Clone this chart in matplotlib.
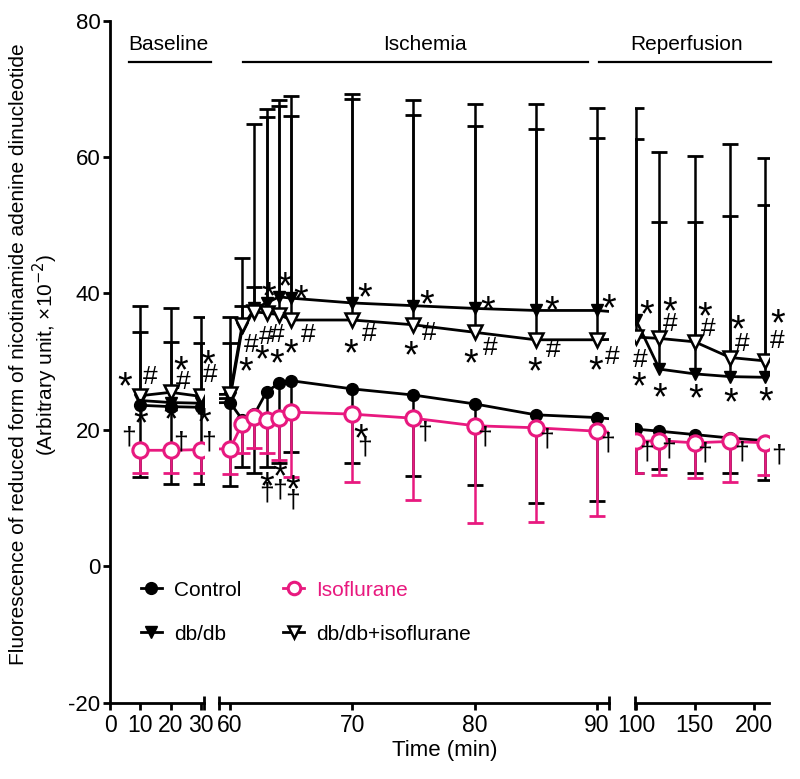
import numpy as np
import matplotlib
matplotlib.use('Agg')
import matplotlib.pyplot as plt
from matplotlib.lines import Line2D
from matplotlib.transforms import offset_copy

plt.rcParams['font.family'] = ['Liberation Sans', 'DejaVu Sans']
plt.rcParams['axes.unicode_minus'] = False

PINK = '#E8197F'

# time points (min)
time = [10, 20, 30, 60, 61, 62, 63, 64, 65, 70, 75, 80, 85, 90, 100, 120, 150, 180, 210]

ctrl_mean = [23.6, 23.4, 23.3, 24.0, 21.5, 22.3, 25.6, 26.8, 27.2, 26.0, 25.1, 23.8, 22.2, 21.8,
             20.1, 19.8, 19.3, 18.8, 18.4]
ctrl_low = [13.1, 12.1, 12.1, 11.8, 14.6, 13.6, 14.5, 15.2, 16.8, 15.2, 13.2, 11.9, 9.3, 9.5,
            13.7, 14.3, 13.6, 13.6, 12.6]

iso_mean = [17.0, 17.0, 17.1, 17.2, 20.9, 21.9, 21.4, 21.7, 22.6, 22.3, 21.7, 20.6, 20.3, 19.8,
            18.3, 18.4, 18.1, 18.3, 18.1]
iso_low = [13.7, 13.7, 13.7, 13.5, 16.6, 17.3, 16.6, 15.6, 13.1, 12.4, 9.7, 6.4, 6.5, 7.3,
           13.7, 13.4, 13.0, 12.4, 13.4]

db_mean = [24.3, 24.0, 23.9, 24.6, 34.9, 37.8, 38.6, 39.5, 39.3, 38.6, 38.2, 37.8, 37.5, 37.5,
           36.1, 28.9, 28.2, 27.8, 27.7]
db_high = [38.2, 37.8, 36.5, 36.5, 45.2, 64.8, 67.1, 68.4, 68.9, 69.2, 68.4, 67.7, 67.7, 67.2,
           67.2, 60.8, 60.1, 61.9, 59.8]

dbiso_mean = [25.0, 25.5, 24.9, 25.2, 35.4, 37.3, 37.1, 36.9, 36.1, 36.1, 35.4, 34.3, 33.2, 33.2,
              33.6, 33.4, 32.9, 30.6, 30.1]
dbiso_high = [34.4, 32.9, 32.7, 32.7, 38.1, 40.9, 65.8, 67.5, 66.0, 68.5, 66.2, 64.6, 64.1, 62.8,
              62.6, 50.5, 50.4, 51.4, 52.9]

# significance marks: (time, y, symbol)
marks = [
    (4.8, 27.8, '*'), (13.2, 28.0, '#'), (10, 22.4, '*'),
    (23.3, 30.2, '*'), (24.3, 27.3, '#'), (20, 22.9, '*'),
    (32.3, 31.0, '*'), (33.0, 28.3, '#'), (30.8, 22.5, '*'),
    (6.0, 19.0, '†'), (23.3, 18.2, '†'), (32.5, 18.2, '†'),
    (61.3, 30.0, '*'), (61.7, 32.7, '#'), (62.97, 33.9, '#'), (63.9, 34.2, '#'),
    (62.6, 31.7, '*'), (63.8, 31.2, '*'), (65.0, 32.7, '*'), (66.4, 34.2, '#'),
    (63.2, 41.0, '*'), (64.5, 42.5, '*'), (65.8, 40.5, '*'),
    (63.0, 13.1, '*'), (64.06, 14.6, '*'), (65.1, 12.65, '*'),
    (63.0, 10.7, '†'), (64.06, 11.2, '†'), (65.1, 9.7, '†'),
    (71.0, 40.8, '*'), (71.4, 34.4, '#'), (69.9, 32.7, '*'), (70.7, 20.2, '*'), (71.0, 17.5, '†'),
    (76.05, 39.8, '*'), (76.3, 34.5, '#'), (74.8, 32.4, '*'), (75.9, 19.7, '†'),
    (81.1, 39.0, '*'), (81.3, 32.3, '#'), (79.7, 31.2, '*'), (80.8, 19.0, '†'),
    (86.3, 38.9, '*'), (86.4, 32.0, '#'), (84.9, 30.0, '*'), (85.9, 18.6, '†'),
    (91.0, 39.3, '*'), (91.3, 31.0, '#'), (89.9, 30.2, '*'), (90.9, 18.0, '†'),
    (109, 38.3, '*'), (103.4, 30.6, '#'), (102, 27.8, '*'),
    (128.7, 38.8, '*'), (128.7, 35.9, '#'), (120.3, 26.2, '*'),
    (158.3, 38.1, '*'), (161, 35.1, '#'), (150.7, 26.0, '*'),
    (186.4, 36.2, '*'), (190.1, 32.9, '#'), (180.8, 25.4, '*'),
    (220.2, 37.1, '*'), (220.2, 33.4, '#'), (209.8, 25.6, '*'),
    (109, 16.8, '†'), (128.1, 17.1, '†'), (158.3, 16.6, '†'), (189.3, 16.8, '†'), (221, 16.3, '†'),
]

segments = [(0, 31), (59.1, 91), (99.2, 213)]
seg_ticks = [[0, 10, 20, 30], [60, 70, 80, 90], [100, 150, 200]]

# glyph size and centre height (in em) for each mark symbol
sym_size = {'*': 27, '#': 19, '†': 19}
sym_mid = {'*': 0.58, '#': 0.35, '†': 0.28}

fig = plt.figure(figsize=(8, 7.79), dpi=100)
bottom, height = 0.098, 0.8756
lefts = [0.1375, 0.27375, 0.79375]
widths = [0.1175, 0.4875, 0.1675]

axes = []
for i in range(3):
    ax = fig.add_axes([lefts[i], bottom, widths[i], height])
    axes.append(ax)

t = np.array(time)


def draw_err(ax, mean, bound, color):
    ax.vlines(t, mean, bound, color=color, lw=1.8, zorder=2)
    ax.plot(t, bound, ls='none', marker='_', ms=11, mew=2, color=color, zorder=2)


for i, ax in enumerate(axes):
    draw_err(ax, db_mean, db_high, 'black')
    draw_err(ax, dbiso_mean, dbiso_high, 'black')
    draw_err(ax, ctrl_mean, ctrl_low, 'black')
    draw_err(ax, iso_mean, iso_low, PINK)

    ax.plot(t, db_mean, color='black', lw=2, marker='v', ms=8, zorder=3)
    ax.plot(t, dbiso_mean, color='black', lw=2, marker='v', ms=10, mfc='white', mew=1.8, zorder=3)
    ax.plot(t, ctrl_mean, color='black', lw=2, marker='o', ms=8.5, zorder=4)
    ax.plot(t, iso_mean, color=PINK, lw=2, marker='o', ms=11, mfc='white', mew=2.2, zorder=5)

    lo, hi = segments[i]
    ax.set_xlim(lo, hi)
    ax.set_ylim(-20, 80)
    ax.set_xticks(seg_ticks[i])
    ax.tick_params(axis='x', length=5, width=2, labelsize=16.5, pad=3)
    for s in ['top', 'right']:
        ax.spines[s].set_visible(False)
    ax.spines['bottom'].set_linewidth(2)
    if i == 0:
        ax.set_yticks([-20, 0, 20, 40, 60, 80])
        ax.tick_params(axis='y', length=5, width=2, labelsize=16, pad=2)
        ax.spines['left'].set_linewidth(2)
    else:
        ax.spines['left'].set_visible(False)
        ax.set_yticks([])

    for (mt, my, sym) in marks:
        if i == 0 and mt > 40:
            continue
        if i == 1 and (mt < 40 or mt > 95):
            continue
        if i == 2 and mt < 95:
            continue
        fs = sym_size[sym]
        tr = offset_copy(ax.transData, fig=fig, y=-sym_mid[sym] * fs, units='points')
        ax.text(mt, my, sym, ha='center', va='baseline', fontsize=fs,
                transform=tr, clip_on=False, zorder=6)

    # segment end caps of the broken axis
    ends = [[1], [0, 1], [0]][i]
    for e in ends:
        ax.plot([e], [0], transform=ax.transAxes, marker='|', ms=10, mew=2,
                color='black', clip_on=False, zorder=7)

axes[1].set_xlabel('Time (min)', fontsize=16)
axes[1].xaxis.set_label_coords((445 - 219) / 390, -0.055)

fig.text(0.023, 0.545, 'Fluorescence of reduced form of nicotinamide adenine dinucleotide',
         rotation=90, ha='center', va='center', fontsize=15)
fig.text(0.057, 0.545, '(Arbitrary unit, ×10$^{-2}$)', rotation=90, ha='center', va='center',
         fontsize=15)

# phase labels
phases = [('Baseline', 129, 211, 168), ('Ischemia', 243, 588, 425), ('Reperfusion', 599, 771, 687)]
for name, x0, x1, xc in phases:
    fig.add_artist(Line2D([x0 / 800, x1 / 800], [1 - 62 / 779] * 2, color='black', lw=1.6))
    fig.text(xc / 800, 1 - 45 / 779, name, ha='center', va='center', fontsize=15)

handles = [
    Line2D([], [], color='black', lw=2, marker='o', ms=8.5),
    Line2D([], [], color='black', lw=2, marker='v', ms=8),
    Line2D([], [], color=PINK, lw=2, marker='o', ms=9, mfc='white', mew=2.2),
    Line2D([], [], color='black', lw=2, marker='v', ms=9, mfc='white', mew=1.8),
]
labels = ['Control', 'db/db', 'Isoflurane', 'db/db+isoflurane']
leg = fig.legend(handles, labels, ncol=2, frameon=False, fontsize=15,
                 loc='upper left', bbox_to_anchor=(122 / 800, 1 - 562 / 779),
                 handlelength=1.0, handletextpad=0.6, columnspacing=2.0, labelspacing=1.2)
leg.get_texts()[2].set_color(PINK)

fig.savefig('out.png', dpi=100)
